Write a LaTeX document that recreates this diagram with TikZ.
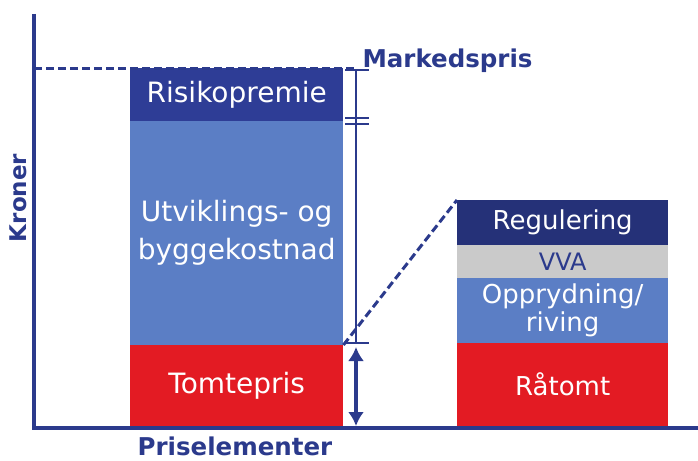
\documentclass[tikz,border=0pt]{standalone}
\usepackage{fontspec}
\setmainfont{DejaVu Sans}
\usepackage{xcolor}
\usetikzlibrary{arrows.meta,positioning}

\definecolor{navy}{HTML}{2B3A8C}
\definecolor{darkbar}{HTML}{2E3D96}
\definecolor{midbar}{HTML}{5B7EC5}
\definecolor{redbar}{HTML}{E31B23}
\definecolor{greybar}{HTML}{CACACA}

\tikzset{
  leftbar/.style={draw=none, anchor=north west, minimum width=213pt, inner sep=0pt,
    text=white, align=center, font=\fontsize{28}{38}\selectfont},
  rightbar/.style={draw=none, anchor=north west, minimum width=211pt, inner sep=0pt,
    text=white, align=center, font=\fontsize{26}{28}\selectfont},
  axislabel/.style={text=navy, font=\bfseries\fontsize{23}{24}\selectfont},
}

\begin{document}
\begin{tikzpicture}[>={Latex[length=14pt, width=16pt]}, x=1pt, y=-1pt]
  \useasboundingbox (0,0) rectangle (698,460);

  % Axes
  \coordinate (origo) at (34,428);
  \coordinate (ytop) at (34,14);
  \coordinate (xend) at (698,428);
  \draw[navy, line width=4pt] (ytop) -- (34,430);
  \draw[navy, line width=4pt] (32,428) -- (xend);
  \node[axislabel, rotate=90] (kroner) at (18,198) {Kroner};
  \node[axislabel, font=\bfseries\fontsize{24.5}{26}\selectfont] (priselementer) at (235,446) {Priselementer};

  % Left stack
  \node[leftbar, fill=darkbar, minimum height=53pt] (risiko) at (130,68) {Risikopremie};
  \node[leftbar, fill=midbar, minimum height=224pt] (utvikling) at (130,121) {Utviklings- og\\byggekostnad};
  \node[leftbar, fill=redbar, minimum height=81pt] (tomtepris) at (130,345) {Tomtepris};

  % Market price
  \coordinate (mp) at (34,68);
  \coordinate (mpend) at (357,68);
  \draw[navy, line width=3pt, dash pattern=on 8pt off 4pt] (mp) -- (mpend);
  \node[text=navy, anchor=base west, font=\bfseries\fontsize{24.5}{26}\selectfont] (markedspris) at (359,67) {Markedspris};

  % Bracket beside left stack
  \coordinate (brtop) at (356,70);
  \coordinate (brbot) at (356,343);
  \draw[navy, line width=1.5pt] (brtop) -- (brbot);
  \foreach \y in {70,118,124,343} {
    \draw[navy, line width=1.5pt] (345,\y) -- (369,\y);
  }
  \coordinate (arrtop) at (356,347);
  \coordinate (arrbot) at (356,426);
  \draw[<->, navy, line width=3.5pt] (arrtop) -- (arrbot);

  % Right stack
  \node[rightbar, fill=darkbar!80!black, minimum height=45pt] (regulering) at (457,200) {Regulering};
  \node[rightbar, fill=greybar, minimum height=33pt, text=navy, font=\fontsize{24}{26}\selectfont] (vva) at (457,245) {VVA};
  \node[rightbar, fill=midbar, minimum height=65pt] (opprydning) at (457,278) {Opprydning/\\riving};
  \node[rightbar, fill=redbar, minimum height=83pt] (raatomt) at (457,343) {Råtomt};

  % Zoom line
  \draw[navy, line width=3pt, dash pattern=on 8pt off 4pt] (tomtepris.north east) -- (regulering.north west);
\end{tikzpicture}
\end{document}
